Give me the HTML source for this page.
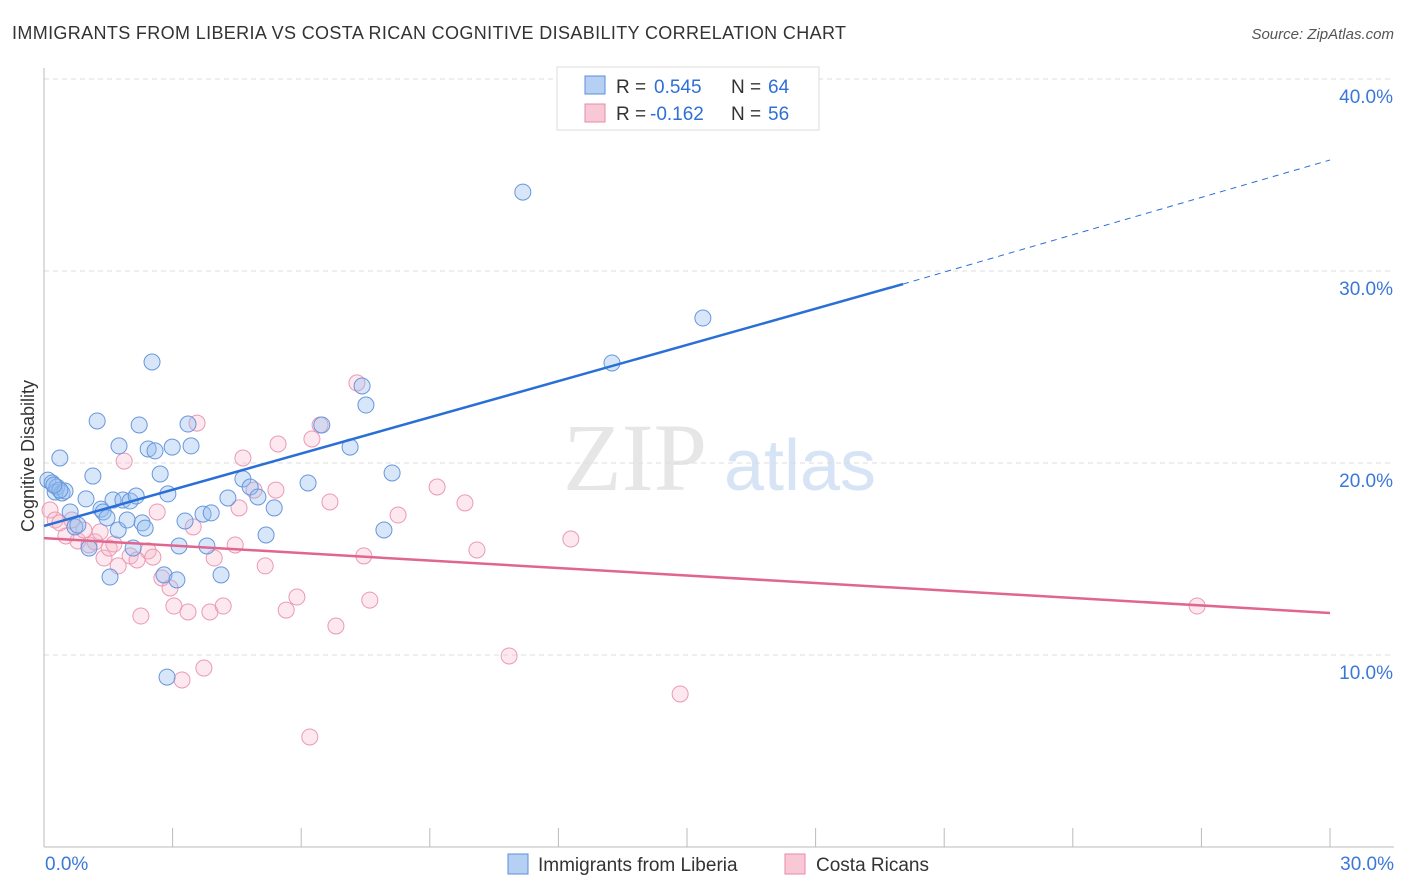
<!DOCTYPE html>
<html><head><meta charset="utf-8"><style>
body{margin:0;background:#fff;font-family:"Liberation Sans",sans-serif;}
svg{display:block}
</style></head><body>
<svg id="chart" width="1406" height="892">
<text x="12" y="39" font-size="18" fill="#333" textLength="834" lengthAdjust="spacing">IMMIGRANTS FROM LIBERIA VS COSTA RICAN COGNITIVE DISABILITY CORRELATION CHART</text>
<text x="1394" y="39" font-size="15" fill="#555" font-style="italic" text-anchor="end">Source: ZipAtlas.com</text>
<text x="34" y="456" font-size="18" fill="#333" text-anchor="middle" transform="rotate(-90 34 456)">Cognitive Disability</text>
<g><text x="635" y="490" font-size="96" fill="#e6e6e6" font-family="Liberation Serif,serif" text-anchor="middle">ZIP</text><text x="800" y="490" font-size="72" fill="#d6e4f5" text-anchor="middle">atlas</text></g>
<g id="grid"></g><g id="marks"></g>
<g>
<rect x="557" y="67" width="262" height="63" fill="#fff" stroke="#ddd"/>
<rect x="585" y="76" width="20" height="18" fill="#b5d0f3" stroke="#5b8fd9"/>
<rect x="585" y="104" width="20" height="18" fill="#f8c8d6" stroke="#e88aa8"/>
<text x="616" y="93" font-size="19" fill="#333">R =</text><text x="654" y="93" font-size="19" fill="#2f6fd6">0.545</text>
<text x="731" y="93" font-size="19" fill="#333">N =</text><text x="768" y="93" font-size="19" fill="#2f6fd6">64</text>
<text x="616" y="120" font-size="19" fill="#333">R =</text><text x="650" y="120" font-size="19" fill="#2f6fd6">-0.162</text>
<text x="731" y="120" font-size="19" fill="#333">N =</text><text x="768" y="120" font-size="19" fill="#2f6fd6">56</text>
</g>
<g>
<rect x="508" y="854" width="20" height="20" fill="#b5d0f3" stroke="#5b8fd9"/>
<text x="538" y="871" font-size="19" fill="#333">Immigrants from Liberia</text>
<rect x="785" y="854" width="20" height="20" fill="#f8c8d6" stroke="#e88aa8"/>
<text x="816" y="871" font-size="19" fill="#333">Costa Ricans</text>
</g>
</svg>
<script>
const yTicks=[10,20,30,40];
const yTickLabels=["10.0%","20.0%","30.0%","40.0%"];
const xEndLabels=["0.0%","30.0%"];
const blueX=[0.09,0.19,0.26,0.30,0.37,0.42,0.49,0.61,0.72,0.79,0.98,1.05,1.14,1.24,1.33,1.38,1.47,1.54,1.61,1.73,1.75,1.84,1.94,2.01,2.08,2.15,2.22,2.29,2.36,2.43,2.52,2.59,2.71,2.80,2.89,2.99,3.10,3.15,3.29,3.36,3.43,3.71,3.80,3.90,4.13,4.29,4.64,4.81,4.99,5.18,5.37,6.16,6.48,7.14,7.42,7.51,7.93,8.12,11.17,13.25,15.37,2.87,0.37,0.23];
const blueY=[19.11,18.96,18.49,18.75,20.26,18.44,18.54,17.45,16.67,16.77,18.13,15.57,19.32,22.19,17.60,17.45,17.14,14.06,18.07,16.51,20.89,18.07,17.03,18.02,15.57,18.28,21.98,16.88,16.61,20.73,25.26,20.63,19.43,14.17,18.39,20.83,13.91,15.68,16.98,22.03,20.89,17.34,15.68,17.40,14.17,18.18,19.17,18.75,18.23,16.25,17.66,18.96,21.98,20.83,24.01,23.02,16.51,19.48,34.11,25.21,27.55,8.85,18.59,18.85];
const pinkX=[0.14,0.26,0.37,0.51,0.65,0.79,0.93,1.05,1.19,1.31,1.40,1.52,1.63,1.73,1.87,2.01,2.17,2.26,2.43,2.54,2.64,2.75,2.94,3.03,3.22,3.36,3.48,3.57,3.73,3.87,3.97,4.18,4.46,4.55,4.64,4.90,5.16,5.41,5.46,5.65,5.90,6.20,6.25,6.44,6.67,6.81,7.30,7.46,7.60,8.26,9.17,9.82,10.10,10.85,12.29,14.84,26.90];
const pinkY=[17.55,17.03,16.88,16.20,17.03,15.94,16.51,15.73,15.89,16.41,15.05,15.57,15.78,14.64,20.10,15.16,14.95,12.03,15.42,15.10,17.45,14.01,13.49,12.55,8.70,12.24,16.67,22.08,9.32,12.24,15.05,12.55,15.73,17.66,20.26,18.59,14.64,18.59,20.99,12.34,13.02,5.73,21.25,21.98,17.97,11.51,24.17,15.16,12.86,17.29,18.75,17.92,15.47,9.95,16.04,7.97,12.55];
const blueTrend=[16.72,29.32,35.78];
const pinkTrend=[16.09,12.19];
const X=v=>44+v*42.867, Y=v=>847-v*19.2;
const NS="http://www.w3.org/2000/svg";
function mk(t,a,p){const e=document.createElementNS(NS,t);for(const k in a)e.setAttribute(k,a[k]);p.appendChild(e);return e;}
const g=document.getElementById('grid'), m=document.getElementById('marks');
yTicks.forEach((t,i)=>{
 const l=mk('line',{x1:44,x2:1394,y1:Y(t),y2:Y(t),stroke:'#ddd','stroke-dasharray':'5,4'},g);
 
 
 const tx=mk('text',{x:1393,y:Y(t)+24,'font-size':19,fill:'#3a78d8','text-anchor':'end'},g);
 tx.textContent=yTickLabels[i];
 
 
});
const ax=mk('line',{x1:44,x2:1394,y1:847,y2:847,stroke:'#bbb'},g);


const ay=mk('line',{x1:44,x2:44,y1:68,y2:847,stroke:'#bbb'},g);


for(let i=0;i<=10;i++){
 const t=mk('line',{x1:X(i*3),x2:X(i*3),y1:828,y2:847,stroke:'#bbb'},g);
 
 
}
[[0,'start',45],[30,'end',1394]].forEach((d,i)=>{
 const t=mk('text',{x:d[2],y:870,'font-size':19,fill:'#3a78d8','text-anchor':d[1]},g);
 t.textContent=xEndLabels[i];
 
 
});
pinkX.forEach((x,i)=>{
 const c=mk('circle',{cx:X(x),cy:Y(pinkY[i]),r:8,fill:'rgba(246,178,200,0.3)',stroke:'#eb9ab4','stroke-width':1},m);
 
 
});
blueX.forEach((x,i)=>{
 const c=mk('circle',{cx:X(x),cy:Y(blueY[i]),r:8,fill:'rgba(150,188,238,0.38)',stroke:'#6797dc','stroke-width':1},m);
 
 
});
const bl=mk('line',{x1:X(0),y1:Y(blueTrend[0]),x2:X(20.04),y2:Y(blueTrend[1]),stroke:'#2a6fd6','stroke-width':2.5},m);


const bd=mk('line',{x1:X(20.04),y1:Y(blueTrend[1]),x2:X(30),y2:Y(blueTrend[2]),stroke:'#2a6fd6','stroke-width':1,'stroke-dasharray':'6,5'},m);


const pl=mk('line',{x1:X(0),y1:Y(pinkTrend[0]),x2:X(30),y2:Y(pinkTrend[1]),stroke:'#e0668f','stroke-width':2.5},m);


</script>
</body></html>
